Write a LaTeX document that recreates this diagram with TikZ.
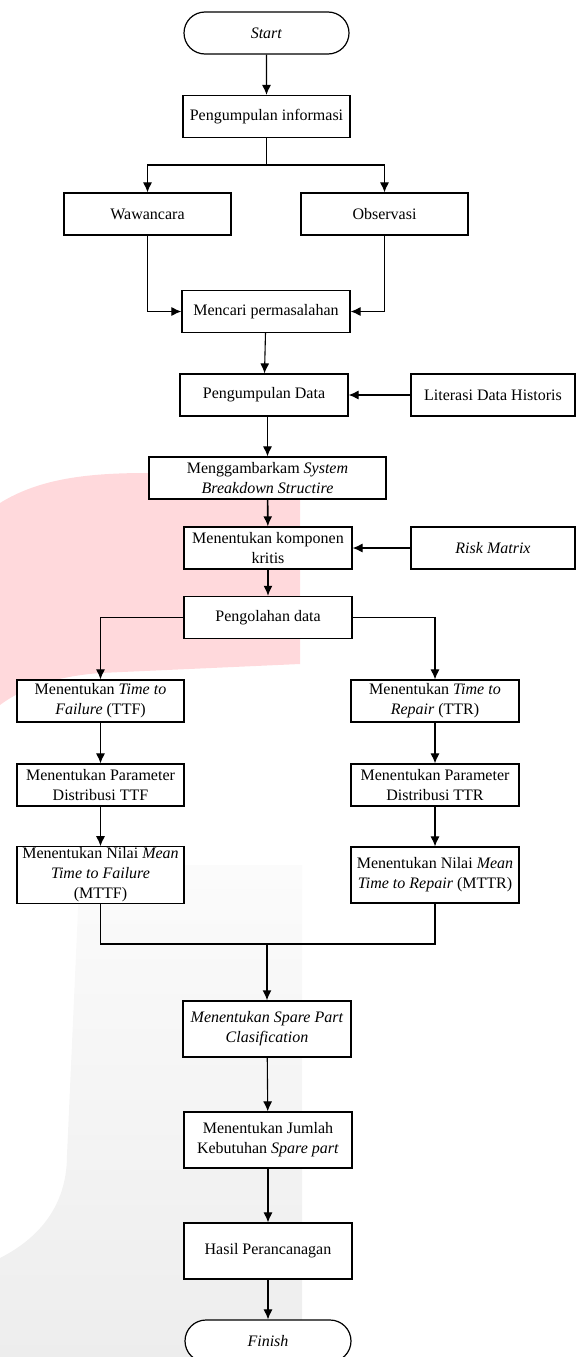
\documentclass[tikz,border=0pt]{standalone}
\usepackage{fontspec}
\setmainfont{Liberation Serif}
\usepackage{xcolor}
\usetikzlibrary{shapes, shapes.misc, arrows.meta, positioning}
\definecolor{merahmuda}{RGB}{255,217,220}
\tikzset{
  proses/.style={draw, line width=1.2pt, fill=white, align=center, inner sep=1pt,
    minimum width=167pt, minimum height=42pt, font=\fontsize{16}{20}\selectfont},
  terminal/.style={proses, rounded rectangle},
  panah/.style={line width=1.1pt, -{Latex[length=10pt,width=9pt]}},
  garis/.style={line width=1.1pt}
}

\begin{document}
\begin{tikzpicture}[x=1pt, y=-1pt]
	\useasboundingbox (0,0) rectangle (576,1357);
	\clip (0,0) rectangle (576,1357);
	
	% latar belakang
	\fill[merahmuda] (0,503) .. controls (40,478) and (90,473) .. (147,473) -- (300,473) -- (300,664) -- (100,673) .. controls (50,677) and (20,690) .. (0,705) -- cycle;
	\shade[top color=gray!3, bottom color=gray!14] (80,865) -- (302,865) -- (302,1357) -- (0,1357) -- (0,1258) .. controls (45,1235) and (67,1200) .. (67,1155) -- cycle;
	
	% awal
	\node[terminal] (start) at (266.5,33) {\textit{Start}};
	\node[proses] (info) at (266.5,116.5) {Pengumpulan informasi};
	\node[proses] (wawancara) at (147.5,214) {Wawancara};
	\node[proses] (observasi) at (384.5,214) {Observasi};
	\node[proses, minimum width=168pt] (mencari) at (266,311.5) {Mencari permasalahan};
	
	% data
	\node[proses, minimum width=168pt] (data) at (264,395) {Pengumpulan Data};
	\node[proses, minimum width=164pt] (literasi) at (493,395) {Literasi Data Historis};
	\node[proses, minimum width=237pt] (sbs) at (267.5,478) {Menggambarkam \textit{System}\\\textit{Breakdown Structire}};
	\node[proses, minimum width=168pt] (kritis) at (268,548) {Menentukan komponen\\kritis};
	\node[proses, minimum width=164pt] (risk) at (493,548) {\textit{Risk Matrix}};
	\node[proses, minimum width=168pt] (olah) at (268,617.5) {Pengolahan data};
	
	% cabang kiri (TTF)
	\node[proses] (ttf) at (100.5,701) {Menentukan \textit{Time to}\\\textit{Failure} (TTF)};
	\node[proses] (parttf) at (100.5,785) {Menentukan Parameter\\Distribusi TTF};
	\node[proses, minimum height=56pt] (mttf) at (100.5,875) {Menentukan Nilai \textit{Mean}\\\textit{Time to Failure}\\(MTTF)};
	
	% cabang kanan (TTR)
	\node[proses, minimum width=168pt] (ttr) at (435,701) {Menentukan \textit{Time to}\\\textit{Repair} (TTR)};
	\node[proses, minimum width=168pt] (parttr) at (435,785) {Menentukan Parameter\\Distribusi TTR};
	\node[proses, minimum width=168pt, minimum height=56pt] (mttr) at (435,875) {Menentukan Nilai \textit{Mean}\\\textit{Time to Repair} (MTTR)};
	
	% akhir
	\node[proses, minimum width=168pt, minimum height=56pt] (spc) at (267,1029) {\textit{Menentukan Spare Part}\\\textit{Clasification}};
	\node[proses, minimum width=168pt, minimum height=56pt] (jml) at (268,1140) {Menentukan Jumlah\\Kebutuhan \textit{Spare part}};
	\node[proses, minimum width=168pt, minimum height=56pt] (hasil) at (268,1251) {Hasil Perancanagan};
	\node[terminal, minimum width=168pt] (finish) at (268,1341) {\textit{Finish}};
	
	% titik cabang
	\coordinate (cab1) at (266.5,165);
	\coordinate (gab) at (267,944);
	
	% panah
	\draw[panah] (start) -- (info);
	\draw[garis] (info) -- (cab1);
	\draw[panah] (cab1) -| (wawancara);
	\draw[panah] (cab1) -| (observasi);
	\draw[panah] (wawancara) |- (mencari);
	\draw[panah] (observasi) |- (mencari);
	\draw[panah] (mencari) -- (data);
	\draw[panah] (literasi) -- (data);
	\draw[panah] (data.south -| sbs.north) -- (sbs.north);
	\draw[panah, line width=1.6pt] (sbs) -- (kritis);
	\draw[panah] (risk) -- (kritis);
	\draw[panah, line width=1.6pt] (kritis) -- (olah);
	\draw[panah] (olah) -| (ttf);
	\draw[panah] (olah) -| (ttr);
	\draw[panah] (ttf) -- (parttf);
	\draw[panah] (parttf) -- (mttf);
	\draw[panah] (ttr) -- (parttr);
	\draw[panah] (parttr) -- (mttr);
	\draw[garis] (mttf) |- (gab);
	\draw[garis] (mttr) |- (gab);
	\draw[panah, line width=1.6pt] (gab) -- (spc);
	\draw[panah] (spc) -- (jml);
	\draw[panah] (jml) -- (hasil);
	\draw[panah] (hasil) -- (finish);
\end{tikzpicture}
\end{document}
